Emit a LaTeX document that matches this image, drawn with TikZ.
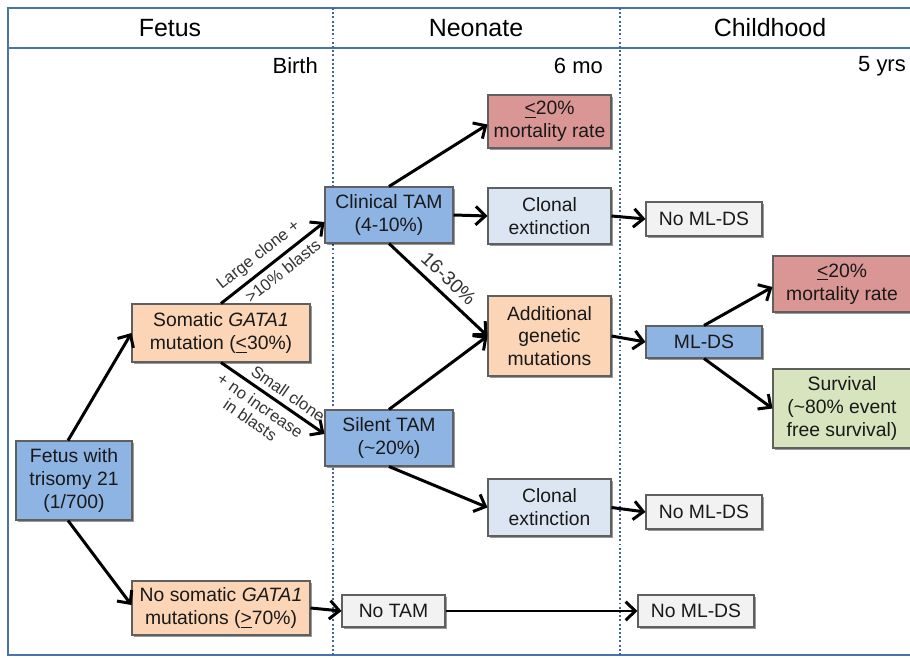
\documentclass[tikz,border=0pt]{standalone}
\usepackage{fontspec}
\setmainfont{Liberation Sans}
\usetikzlibrary{arrows.meta,shadows}
\definecolor{cblue}{HTML}{8EB4E3}
\definecolor{cpeach}{HTML}{FBD5B5}
\definecolor{cred}{HTML}{D99694}
\definecolor{clight}{HTML}{DCE6F2}
\definecolor{cgreen}{HTML}{D7E4BD}
\definecolor{cgray}{HTML}{F2F2F2}
\definecolor{cframe}{HTML}{4A72AC}
\definecolor{cdot}{HTML}{3E66A2}
\definecolor{cborder}{HTML}{5F5F5F}
\begin{document}
\begin{tikzpicture}[x=0.02cm,y=-0.02cm,
  box/.style={draw=cborder, line width=0.6pt, align=center, inner sep=1pt,
    font=\fontsize{11}{13}\selectfont, text=black!90,
    drop shadow={shadow xshift=1.3pt, shadow yshift=-1.3pt, opacity=0.4, fill=black}},
  arr/.style={line width=1.7pt, -{Straight Barb[length=5.5pt,width=10.5pt]}},
  elab/.style={font=\fontsize{9.4}{10}\selectfont, text=black!80, sloped, inner sep=3pt, align=center},
  head/.style={font=\fontsize{14.2}{17}\selectfont},
  sub/.style={font=\fontsize{12.5}{15}\selectfont, anchor=east}]
\useasboundingbox (0,0) rectangle (910,658);
% frame
\draw[cframe, line width=1.1pt] (920,8) -- (8,8) -- (8,655) -- (920,655);
\draw[cframe, line width=1.1pt] (8,48) -- (920,48);
\draw[cdot, line width=1.2pt, dash pattern=on 1.1pt off 1.3pt] (333,8) -- (333,655);
\draw[cdot, line width=1.2pt, dash pattern=on 1.1pt off 1.3pt] (620,8) -- (620,655);
% headers
\node[head] (hfetus) at (170,28) {Fetus};
\node[head] (hneo) at (476,28) {Neonate};
\node[head] (hchild) at (770,28) {Childhood};
\node[sub] (birth) at (324,66) {Birth};
\node[sub] (sixmo) at (609,66) {6 mo};
\node[sub] (fiveyr) at (912,66) {5 yrs};
% boxes
\node[box, fill=cblue, minimum width=2.32cm, minimum height=1.58cm] (fetus) at (74,480.5) {Fetus with\\trisomy 21\\(1/700)};
\node[box, fill=cpeach, minimum width=3.56cm, minimum height=1.16cm] (som) at (221,333) {Somatic \textit{GATA1}\\mutation (\underline{<}30\%)};
\node[box, fill=cpeach, minimum width=3.56cm, minimum height=1.08cm] (nosom) at (221,608) {No somatic \textit{GATA1}\\mutations (\underline{>}70\%)};
\node[box, fill=cblue, minimum width=2.56cm, minimum height=1.12cm] (clin) at (389,215) {Clinical TAM\\(4-10\%)};
\node[box, fill=cblue, minimum width=2.56cm, minimum height=1.12cm] (silent) at (389,438) {Silent TAM\\(\textasciitilde20\%)};
\node[box, fill=cred, minimum width=2.46cm, minimum height=1.06cm] (mort1) at (549.5,121.5) {\underline{<}20\%\\mortality rate};
\node[box, fill=clight, minimum width=2.46cm, minimum height=1.12cm] (ext1) at (549.5,216) {Clonal\\extinction};
\node[box, fill=cpeach, minimum width=2.46cm, minimum height=1.6cm] (add) at (549.5,336) {Additional\\genetic\\mutations};
\node[box, fill=clight, minimum width=2.46cm, minimum height=1.14cm] (ext2) at (549.5,507.5) {Clonal\\extinction};
\node[box, fill=cgray, minimum width=2.32cm, minimum height=0.68cm] (noml1) at (704,219) {No ML-DS};
\node[box, fill=cblue, minimum width=2.32cm, minimum height=0.64cm] (mlds) at (704,342) {ML-DS};
\node[box, fill=cgray, minimum width=2.32cm, minimum height=0.68cm] (noml2) at (704,512) {No ML-DS};
\node[box, fill=cgray, minimum width=2.06cm, minimum height=0.64cm] (notam) at (393.5,611) {No TAM};
\node[box, fill=cgray, minimum width=2.32cm, minimum height=0.64cm] (noml3) at (696,611) {No ML-DS};
\node[box, fill=cred, minimum width=2.76cm, minimum height=1.12cm] (mort2) at (842,284) {\underline{<}20\%\\mortality rate};
\node[box, fill=cgreen, minimum width=2.76cm, minimum height=1.58cm] (surv) at (842,408.5) {Survival\\(\textasciitilde80\% event\\free survival)};
% arrows
\draw[arr] ([xshift=-0.12cm]fetus.north) -- (som.west);
\draw[arr] ([xshift=-0.12cm]fetus.south) -- ([yshift=0.06cm]nosom.west);
\draw[arr] (som.north) -- ([yshift=-0.14cm]clin.west)
  node[elab, above, pos=0.45] {Large clone +}
  node[elab, below, pos=0.52] {>10\% blasts};
\draw[arr] (som.south) -- ([yshift=0.08cm]silent.west)
  node[elab, above, pos=0.58] {Small clone}
  node[elab, below, pos=0.45] {+ no increase\\in blasts};
\draw[arr] (nosom.east) -- (notam.west);
\draw[arr] (clin.north) -- ([yshift=-0.06cm]mort1.west);
\draw[arr] (clin.east) -- (ext1.west);
\draw[arr] (clin.south) -- (add.west)
  node[elab, above, pos=0.5, inner sep=4pt, font=\fontsize{11}{13}\selectfont] {16-30\%};
\draw[arr] (silent.north) -- (add.west);
\draw[arr] (silent.south) -- (ext2.west);
\draw[arr] (ext1.east) -- (noml1.west);
\draw[arr] (add.east) -- (mlds.west);
\draw[arr] (mlds.north) -- ([yshift=-0.06cm]mort2.west);
\draw[arr] (mlds.south) -- (surv.west);
\draw[arr] (ext2.east) -- (noml2.west);
\draw[arr] (notam.east) -- (noml3.west);
\end{tikzpicture}
\end{document}
